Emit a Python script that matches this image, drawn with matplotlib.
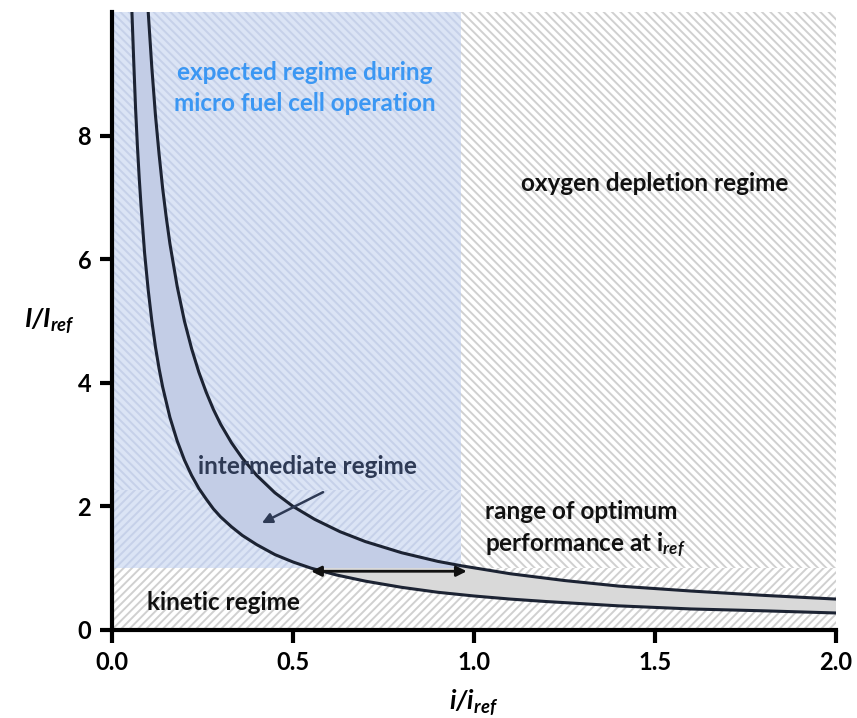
import numpy as np
import matplotlib.pyplot as plt
from matplotlib.patches import Rectangle, Polygon

plt.rcParams['font.family'] = ['Lato', 'DejaVu Sans']
plt.rcParams['mathtext.fontset'] = 'custom'
plt.rcParams['mathtext.rm'] = 'Lato:bold'
plt.rcParams['mathtext.bf'] = 'Lato:bold'
plt.rcParams['mathtext.it'] = 'Lato:bold:italic'
plt.rcParams['mathtext.bfit'] = 'Lato:bold:italic'
plt.rcParams['hatch.linewidth'] = 1.4

# lower boundary curve
x_low = [0.055, 0.06, 0.065, 0.07, 0.075, 0.08, 0.09, 0.10, 0.11, 0.12, 0.13, 0.14,
         0.16, 0.18, 0.20, 0.22, 0.24, 0.26, 0.28, 0.30, 0.33, 0.36, 0.40, 0.45,
         0.50, 0.55, 0.62, 0.70, 0.80, 0.90, 1.0, 1.1, 1.2, 1.4, 1.6, 1.8, 2.0]
y_low = [10.0, 9.2, 8.45, 7.85, 7.33, 6.88, 6.1, 5.5, 5.0, 4.58, 4.23, 3.93,
         3.44, 3.06, 2.75, 2.5, 2.29, 2.12, 1.96, 1.83, 1.67, 1.53, 1.38, 1.22,
         1.1, 1.0, 0.89, 0.79, 0.69, 0.61, 0.55, 0.5, 0.46, 0.39, 0.34, 0.31, 0.275]

# upper boundary curve
x_up = [0.10, 0.11, 0.12, 0.13, 0.14, 0.15, 0.16, 0.18, 0.20, 0.22, 0.24, 0.26,
        0.28, 0.30, 0.33, 0.36, 0.40, 0.45, 0.50, 0.56, 0.63, 0.70, 0.80, 0.90,
        0.964, 1.1, 1.25, 1.4, 1.6, 1.8, 2.0]
y_up = [10.0, 9.1, 8.33, 7.7, 7.14, 6.67, 6.25, 5.56, 5.0, 4.55, 4.17, 3.85,
        3.57, 3.33, 3.03, 2.78, 2.5, 2.22, 2.0, 1.79, 1.59, 1.43, 1.25, 1.11,
        1.04, 0.91, 0.8, 0.71, 0.63, 0.56, 0.5]

# regime boundaries
x_micro = 0.964   # right edge of expected regime
y_kin = 1.0       # top of kinetic regime
opt_range = [0.55, 0.98]
opt_y = 0.95

x_ticks = [0.0, 0.5, 1.0, 1.5, 2.0]
y_ticks = [0, 2, 4, 6, 8]

fig = plt.figure(figsize=(8.57, 7.18), dpi=100)
ax = fig.add_axes([0.1307, 0.1226, 0.8448, 0.8607])
ax.set_xlim(0, 2)
ax.set_ylim(0, 10)

gray_h = '#d0d0d0'
# background hatching
ax.add_patch(Rectangle((0, 0), 2, y_kin, facecolor='white', edgecolor=gray_h,
                       hatch='////', lw=0, zorder=0))
ax.add_patch(Rectangle((x_micro, y_kin), 2 - x_micro, 10 - y_kin, facecolor='white',
                       edgecolor=gray_h, hatch='\\\\\\\\', lw=0, zorder=0))
# expected regime (blue)
blue_bg = '#dbe4f5'
blue_h = '#c6d1e9'
ax.add_patch(Rectangle((0, 2.26), x_micro, 10 - 2.26, facecolor=blue_bg,
                       edgecolor=blue_h, hatch='\\\\\\\\', lw=0, zorder=0))
ax.add_patch(Rectangle((0, y_kin), x_micro, 2.26 - y_kin, facecolor=blue_bg,
                       edgecolor=blue_h, hatch='////', lw=0, zorder=0))

# band between curves
band = np.vstack([np.column_stack([x_low, y_low]),
                  np.column_stack([x_up, y_up])[::-1]])
ax.add_patch(Polygon(band, closed=True, facecolor='#d9d9d9', lw=0, zorder=1))
p = Polygon(band, closed=True, facecolor='#c3cde6', lw=0, zorder=1)
ax.add_patch(p)
clip = Rectangle((0, y_kin), x_micro, 10 - y_kin, transform=ax.transData)
p.set_clip_path(clip)

ax.plot(x_low, y_low, color='#1c2333', lw=2.2, zorder=2)
ax.plot(x_up, y_up, color='#1c2333', lw=2.2, zorder=2)

# optimum range arrow
ax.annotate('', xy=(opt_range[0], opt_y), xytext=(opt_range[1], opt_y),
            arrowprops=dict(arrowstyle='<|-|>', color='#111111', lw=2,
                            mutation_scale=15, shrinkA=0, shrinkB=0), zorder=3)
# intermediate regime arrow
ax.annotate('', xy=(0.414, 1.73), xytext=(0.583, 2.23),
            arrowprops=dict(arrowstyle='-|>', color='#2e3a55', lw=1.8,
                            mutation_scale=15, shrinkA=0, shrinkB=0), zorder=3)

fs = 17.5
ax.text(0.533, 8.77, 'expected regime during\nmicro fuel cell operation',
        color='#3b97f3', fontsize=fs, fontweight='bold', ha='center', va='center',
        linespacing=1.45)
ax.text(1.5, 7.23, 'oxygen depletion regime', color='#111111', fontsize=fs,
        fontweight='bold', ha='center', va='center')
ax.text(0.54, 2.64, 'intermediate regime', color='#2e3a55', fontsize=fs,
        fontweight='bold', ha='center', va='center')
ax.text(1.03, 1.63, 'range of optimum\nperformance at i$_{\\mathbfit{ref}}$',
        color='#111111', fontsize=fs, fontweight='bold', ha='left', va='center',
        linespacing=1.35)
ax.text(0.097, 0.44, 'kinetic regime', color='#111111', fontsize=fs,
        fontweight='bold', ha='left', va='center')

for s in ['top', 'right']:
    ax.spines[s].set_visible(False)
for s in ['left', 'bottom']:
    ax.spines[s].set_linewidth(3)
    ax.spines[s].set_zorder(5)
ax.set_xticks(x_ticks)
ax.set_xticklabels([f'{v:.1f}' for v in x_ticks])
ax.set_yticks(y_ticks)
ax.tick_params(direction='out', length=9, width=3, labelsize=17, pad=6)
for lbl in ax.get_xticklabels() + ax.get_yticklabels():
    lbl.set_fontweight('bold')

ax.set_xlabel('$\\mathbfit{i/i}_{\\mathbfit{ref}}$', fontsize=19, labelpad=10)
ax.set_ylabel('$\\mathbfit{I/I}_{\\mathbfit{ref}}$', fontsize=19, rotation=0,
              labelpad=20, va='center')

plt.savefig('out.png', dpi=100)
